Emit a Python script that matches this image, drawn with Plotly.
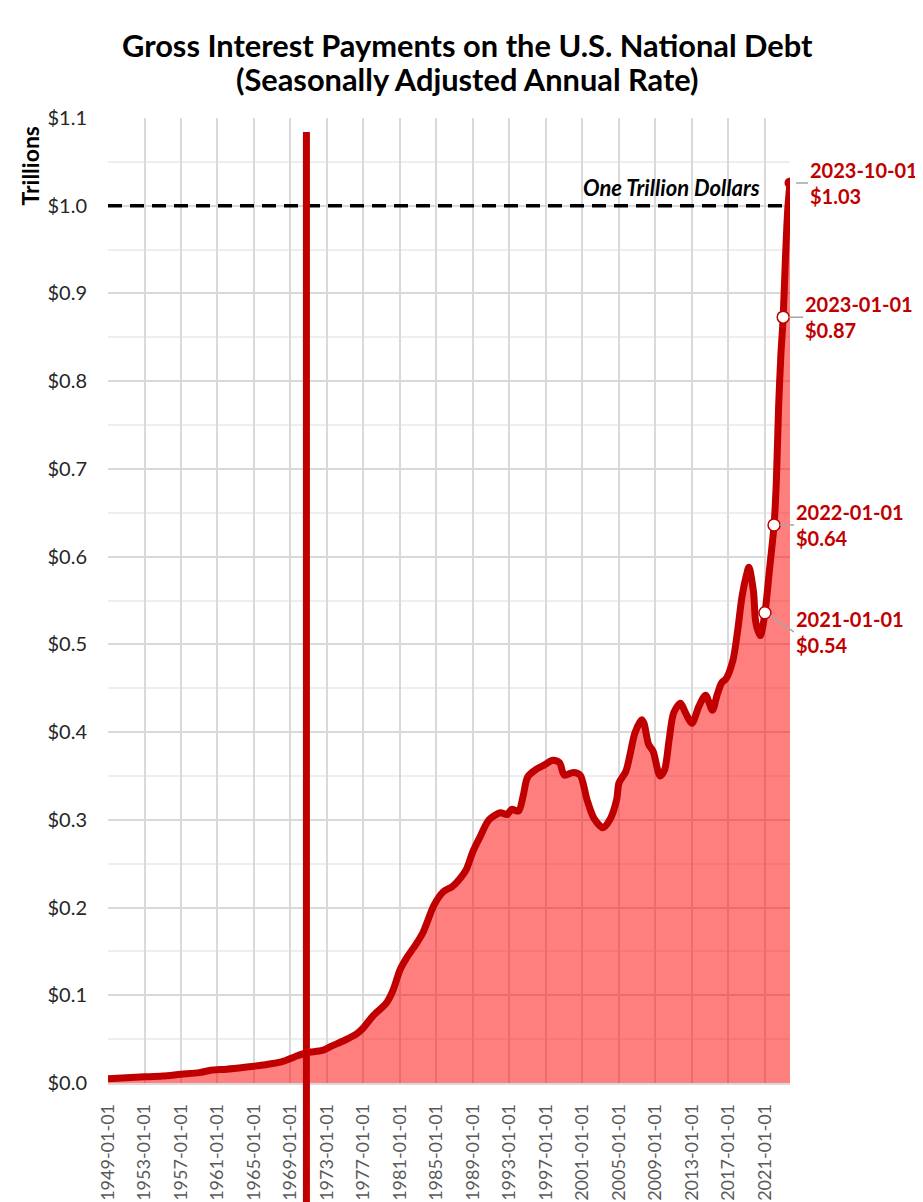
import plotly.graph_objects as go

# ---------------- data (trillions of dollars) ----------------
dates = [
    "1949-01-01", "1951-01-01", "1953-01-01", "1955-01-01", "1957-01-01", "1959-01-01",
    "1960-04-01", "1962-01-01", "1964-01-01", "1966-01-01", "1968-01-01", "1969-07-01",
    "1970-10-01", "1972-07-01", "1973-07-01", "1975-01-01", "1976-04-01", "1977-01-01",
    "1978-01-01", "1979-07-01", "1980-04-01", "1981-01-01", "1981-10-01", "1982-10-01",
    "1983-07-01", "1984-10-01", "1985-10-01", "1986-10-01", "1987-07-01", "1988-04-01",
    "1989-01-01", "1989-10-01", "1990-10-01", "1992-01-01", "1992-10-01", "1993-04-01",
    "1994-01-01", "1994-07-01", "1995-01-01", "1996-01-01", "1996-10-01", "1997-10-01",
    "1998-07-01", "1999-01-01", "2000-01-01", "2000-10-01", "2001-07-01", "2002-04-01",
    "2003-04-01", "2004-01-01", "2004-10-01", "2005-01-01", "2005-10-01", "2006-04-01",
    "2006-10-01", "2007-07-01", "2007-10-01", "2008-04-01", "2008-10-01", "2009-07-01",
    "2010-01-01", "2010-07-01", "2011-01-01", "2011-10-01", "2012-04-01", "2013-01-01",
    "2013-10-01", "2014-07-01", "2015-04-01", "2015-10-01", "2016-04-01", "2016-10-01",
    "2017-07-01", "2018-01-01", "2018-07-01", "2019-01-01", "2019-04-01", "2019-10-01",
    "2020-01-01", "2020-07-01", "2021-01-01", "2021-07-01", "2022-01-01", "2022-04-01",
    "2022-07-01", "2022-10-01", "2023-01-01", "2023-04-01", "2023-07-01", "2023-10-01",
]
values = [
    0.0048, 0.0060, 0.0070, 0.0080, 0.0100, 0.0118,
    0.0145, 0.0158, 0.0180, 0.0205, 0.0240, 0.0300,
    0.0345, 0.0372, 0.0420, 0.0490, 0.0560, 0.0630,
    0.0760, 0.0910, 0.1060, 0.1290, 0.1430, 0.1580,
    0.1710, 0.2030, 0.2180, 0.2240, 0.2320, 0.2430,
    0.2640, 0.2800, 0.3000, 0.3080, 0.3060, 0.3120,
    0.3100, 0.3270, 0.3490, 0.3580, 0.3620, 0.3680,
    0.3650, 0.3510, 0.3540, 0.3510, 0.3230, 0.3020,
    0.2910, 0.3000, 0.3230, 0.3420, 0.3550, 0.3760,
    0.3990, 0.4140, 0.4100, 0.3860, 0.3780, 0.3500,
    0.3570, 0.3910, 0.4220, 0.4330, 0.4230, 0.4100,
    0.4290, 0.4420, 0.4250, 0.4420, 0.4560, 0.4610,
    0.4820, 0.5150, 0.5550, 0.5800, 0.5880, 0.5600,
    0.5250, 0.5100, 0.5360, 0.5850, 0.6360, 0.6850,
    0.7700, 0.8300, 0.8730, 0.9400, 0.9950, 1.0260,
]

highlight_dates = ["2021-01-01", "2022-01-01", "2023-01-01"]
last_date = "2023-10-01"
event_date = "1970-10-01"
event_top = 1.084
threshold = 1.0
threshold_label = "One Trillion Dollars"
title_line1 = "Gross Interest Payments on the U.S. National Debt"
title_line2 = "(Seasonally Adjusted Annual Rate)"
y_title = "Trillions"

x_tick_vals = [
    "1949-01-01", "1953-01-01", "1957-01-01", "1961-01-01", "1965-01-01", "1969-01-01",
    "1973-01-01", "1977-01-01", "1981-01-01", "1985-01-01", "1989-01-01", "1993-01-01",
    "1997-01-01", "2001-01-01", "2005-01-01", "2009-01-01", "2013-01-01", "2017-01-01",
    "2021-01-01",
]
y_tick_vals = [0.0, 0.1, 0.2, 0.3, 0.4, 0.5, 0.6, 0.7, 0.8, 0.9, 1.0, 1.1]
y_tick_text = ["$0.0", "$0.1", "$0.2", "$0.3", "$0.4", "$0.5", "$0.6", "$0.7",
               "$0.8", "$0.9", "$1.0", "$1.1"]
Y_MAX = 1.1

RED = "#C00000"
FONT = "Lato"

val_of = dict(zip(dates, values))

fig = go.Figure()

fig.add_trace(go.Scatter(
    x=dates, y=values, mode="lines",
    line=dict(color=RED, width=7, shape="spline", smoothing=0.8),
    fill="tozeroy", fillcolor="rgba(255,0,0,0.5)",
    hoverinfo="x+y", showlegend=False,
))

# hollow markers
fig.add_trace(go.Scatter(
    x=highlight_dates, y=[val_of[d] for d in highlight_dates], mode="markers",
    marker=dict(size=12, color="white", line=dict(color=RED, width=1.5)),
    showlegend=False,
))
# last point, filled
fig.add_trace(go.Scatter(
    x=[last_date], y=[val_of[last_date]], mode="markers",
    marker=dict(size=11, color=RED, line=dict(color=RED, width=0)),
    showlegend=False,
))

shapes = [
    dict(type="line", xref="paper", yref="y", x0=0, x1=1, y0=threshold, y1=threshold,
         line=dict(color="black", width=3.5, dash="14px,8px"), layer="above"),
    dict(type="line", xref="x", yref="paper", x0=event_date, x1=event_date,
         y0=-0.2, y1=event_top / Y_MAX,
         line=dict(color=RED, width=7), layer="above"),
]

label_offsets = {
    "2021-01-01": (29, 19),
    "2022-01-01": (20, 0),
    "2023-01-01": (20, 0),
    "2023-10-01": (18, 0),
}
annotations = []
for d, (ax, ay) in label_offsets.items():
    v = val_of[d]
    annotations.append(dict(
        x=d, y=v, xref="x", yref="y",
        text=f"<b>{d}<br>${v:.2f}</b>",
        showarrow=True, arrowhead=0, arrowwidth=1.5, arrowcolor="#A6A6A6",
        ax=ax, ay=ay, xanchor="left", yanchor="middle", align="left",
        standoff=6,
        font=dict(family=FONT, size=20, color=RED),
    ))

annotations.append(dict(
    x=last_date, y=threshold, xref="x", yref="y",
    text=f"<b><i>{threshold_label}</i></b>", showarrow=False,
    xanchor="right", yanchor="bottom", xshift=-28, yshift=3,
    font=dict(family=FONT, size=22, color="black"),
))
annotations.append(dict(
    x=-0.114, y=0.95, xref="paper", yref="paper",
    text=f"<b>{y_title}</b>", showarrow=False, textangle=-90,
    xanchor="center", yanchor="middle",
    font=dict(family=FONT, size=23, color="black"),
))
# two-line title, placed line by line
annotations.append(dict(
    x=0.527, y=1.0756, xref="paper", yref="paper",
    text=f"<b>{title_line1}</b>", showarrow=False,
    xanchor="center", yanchor="middle",
    font=dict(family=FONT, size=30.8, color="black"),
))
annotations.append(dict(
    x=0.527, y=1.0394, xref="paper", yref="paper",
    text=f"<b>{title_line2}</b>", showarrow=False,
    xanchor="center", yanchor="middle",
    font=dict(family=FONT, size=30.8, color="black"),
))

fig.update_layout(
    width=915, height=1194,
    margin=dict(l=100, r=133, t=110, b=119, autoexpand=False),
    paper_bgcolor="white", plot_bgcolor="white",
    font=dict(family=FONT),
    shapes=shapes,
    annotations=annotations,
    showlegend=False,
)

fig.update_xaxes(
    type="date", range=[dates[0], last_date],
    tickmode="array", tickvals=x_tick_vals, ticktext=x_tick_vals,
    tickangle=-90, tickfont=dict(family=FONT, size=18, color="#595959"),
    showgrid=True, gridcolor="#D9D9D9", gridwidth=1.5,
    showline=True, linecolor="#D9D9D9", linewidth=1.5,
    ticks="", ticklabelstandoff=12, zeroline=False, automargin=False,
)
fig.update_yaxes(
    range=[0, Y_MAX], tickmode="array", tickvals=y_tick_vals, ticktext=y_tick_text,
    tickfont=dict(family=FONT, size=20, color="#262626"),
    showgrid=True, gridcolor="#D9D9D9", gridwidth=1.5,
    minor=dict(dtick=0.05, showgrid=True, gridcolor="#EEEEEE", gridwidth=1.5),
    zeroline=False, showline=False, ticks="", ticklabelstandoff=20, automargin=False,
)

fig.write_html("out.html")
